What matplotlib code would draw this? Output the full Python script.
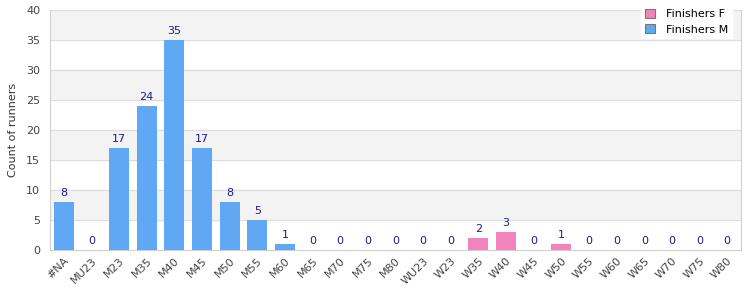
import numpy as np
import matplotlib.pyplot as plt

# categories and counts
categories = ['#NA', 'MU23', 'M23', 'M35', 'M40', 'M45', 'M50', 'M55', 'M60', 'M65',
              'M70', 'M75', 'M80', 'WU23', 'W23', 'W35', 'W40', 'W45', 'W50', 'W55',
              'W60', 'W65', 'W70', 'W75', 'W80']
finishers_m = [8, 0, 17, 24, 35, 17, 8, 5, 1, 0, 0, 0, 0]
finishers_f = [0, 0, 2, 3, 0, 1, 0, 0, 0, 0, 0, 0]

blue = '#60a8f4'
pink = '#f283bc'
label_color = '#1a1a8c'

fig = plt.figure(figsize=(7.5, 3.0), dpi=100)
ax = fig.add_axes([50 / 750, 50 / 300, 691 / 750, 240 / 300])

x_m = np.arange(len(finishers_m))
x_f = np.arange(len(finishers_m), len(categories))
w = 0.72

bars_f = ax.bar(x_f, finishers_f, width=w, color=pink, label='Finishers F', zorder=3)
bars_m = ax.bar(x_m, finishers_m, width=w, color=blue, label='Finishers M', zorder=3)

for bars, vals in ((bars_m, finishers_m), (bars_f, finishers_f)):
    for b, v in zip(bars, vals):
        ax.text(b.get_x() + b.get_width() / 2, v + 0.6, str(v), ha='center', va='bottom',
                fontsize=8, color=label_color, zorder=4)

ax.set_xlim(-0.5, len(categories) - 0.5)
ax.set_ylim(0, 40)
ax.set_yticks(range(0, 41, 5))

# alternating background bands
for lo in range(5, 40, 10):
    ax.axhspan(lo, lo + 5, color='#f3f3f3', zorder=0)
for y in range(5, 41, 5):
    ax.axhline(y, color='#dddddd', linewidth=0.8, zorder=1)

ax.set_xticks(range(len(categories)))
ax.set_xticklabels(categories, rotation=45, ha='right', rotation_mode='anchor', fontsize=8, color='#444444')
ax.tick_params(axis='y', labelsize=8, labelcolor='#444444', length=0, pad=7)
ax.tick_params(axis='x', length=0, pad=4)
ax.set_ylabel('Count of runners', fontsize=8, color='#333333', labelpad=6)

for side in ('left', 'bottom', 'right'):
    ax.spines[side].set_color('#d0d0d0')
ax.spines['top'].set_visible(False)

leg = ax.legend(loc='upper right', bbox_to_anchor=(0.995, 1.045), fontsize=8, frameon=True,
                fancybox=False, framealpha=1, edgecolor='white', handlelength=0.9,
                handleheight=0.9, handletextpad=1.0, borderpad=0.35, labelspacing=0.45)
for h in leg.legend_handles:
    h.set_edgecolor('#777777')
    h.set_linewidth(0.8)
leg.set_zorder(5)

fig.savefig('out.png', dpi=100)
